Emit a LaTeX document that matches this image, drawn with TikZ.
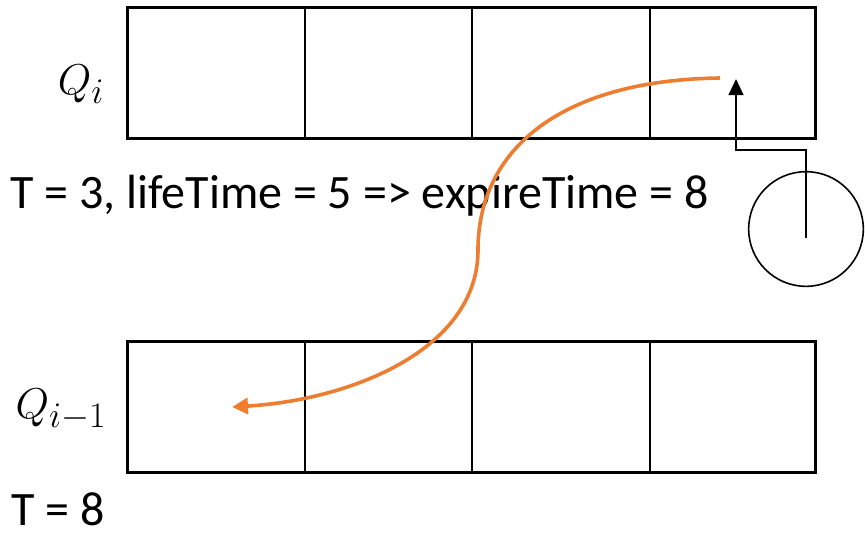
\documentclass[tikz,border=0pt]{standalone}
\usepackage{fontspec}
\setmainfont{Carlito}
\usepackage{tikz}
\usetikzlibrary{arrows.meta,positioning}
\definecolor{naranja}{RGB}{237,125,49}
\tikzset{
  celda/.style={draw=black,line width=1pt,minimum height=97.5pt,inner sep=0pt},
  marco/.style={draw=black,line width=1.5pt},
  flecha/.style={-{Triangle[length=12pt,width=11pt]},line width=1.8pt},
  salto/.style={-{Triangle[length=12pt,width=12pt]},naranja,line width=2.7pt},
  txt/.style={font=\fontsize{36}{40}\selectfont,inner sep=0pt},
  mat/.style={font=\fontsize{24.88}{30}\selectfont,scale=1.3,inner sep=0pt}
}

\begin{document}
\begin{tikzpicture}[x=0.75pt,y=-0.75pt]
\useasboundingbox (0,0) rectangle (865,533);
% colas
\foreach \l/\r [count=\k] in {128/305,305/472,472/650,650/815} {
  \node[celda,minimum width={(\r-\l)*0.75pt}] (a\k) at ({(\l+\r)/2},73) {};
  \node[celda,minimum width={(\r-\l)*0.75pt}] (b\k) at ({(\l+\r)/2},407) {};
}
\draw[marco] (a1.north west) rectangle (a4.south east);
\draw[marco] (b1.north west) rectangle (b4.south east);
\node[mat] (qi) at (81,84) {$Q_i$};
\node[mat] (qim) at (61,410) {$Q_{i-1}$};
\node[txt,anchor=west] (t3) at (10,196) {T = 3, lifeTime = 5 => expireTime = 8};
\node[txt,anchor=west] (t8) at (11,509) {T = 8};
% reloj
\node[draw,circle,line width=1.2pt,minimum size=86pt,inner sep=0pt] (reloj) at (806,229) {};
\coordinate (codo) at (736,150);
\coordinate (punta) at (736,79);
\draw[flecha] ([yshift=-7pt]reloj.center) |- (codo) -- (punta);
% paso a la cola anterior
\coordinate (ini) at (720,78);
\coordinate (medio) at (478,250);
\coordinate (fin) at (232,407);
\draw[salto] (ini) .. controls (560,80) and (478,150) .. (medio)
  .. controls (478,350) and (350,400) .. (fin);
\end{tikzpicture}
\end{document}
